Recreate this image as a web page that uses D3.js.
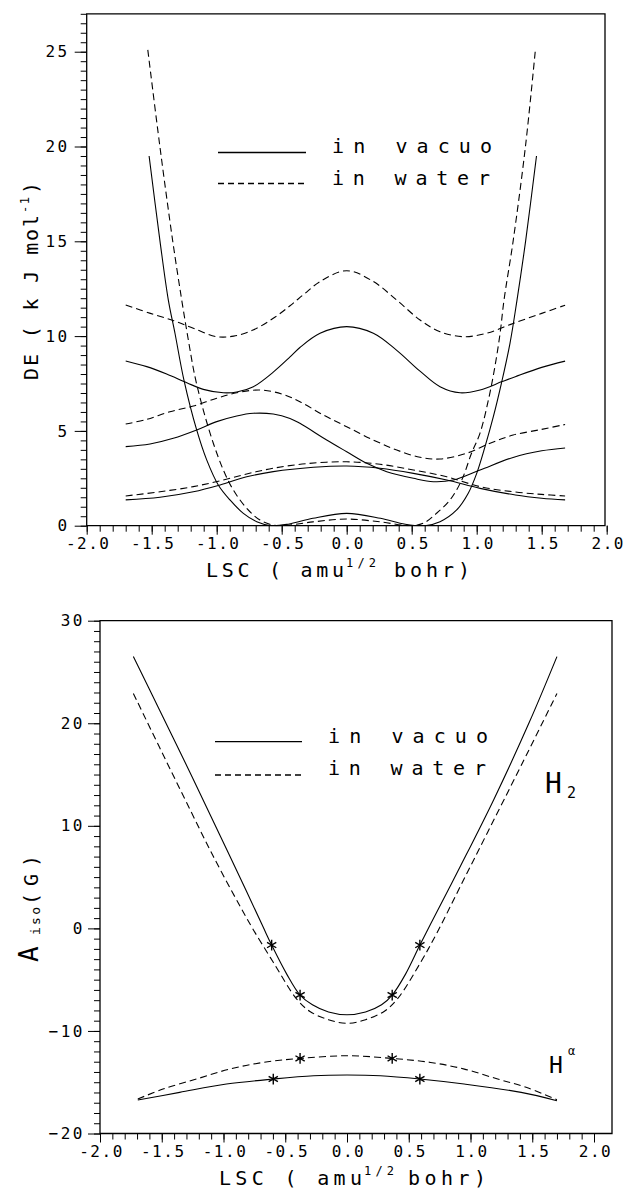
<!DOCTYPE html>
<meta charset="utf-8">
<style>
  body { margin: 0; background: #fff; }
  text { font-family: "DejaVu Sans Mono", monospace; fill: #000; }
  .tick line { stroke: #000; stroke-width: 1; }
  .curve { fill: none; stroke: #000; stroke-width: 1.1; }
  .dashed { stroke-dasharray: 7 4; }
</style>
<script src="https://d3js.org/d3.v7.min.js"></script>
<svg id="chart" width="624" height="1190"></svg>
<script>

// ---------- top panel: DE (kJ/mol) vs LSC ----------
// double well
const wellVacuo = [[-1.52,19.5],[-1.436,15.0],[-1.372,11.9],[-1.321,10.15],[-1.252,7.68],[-1.154,5.05],[-1.077,3.47],[-0.988,2.15],[-0.898,1.36],[-0.795,0.65],[-0.692,0.21],[-0.58,0.0],[-0.45,0.08],[-0.26,0.39],[0,0.65],[0.26,0.39],[0.45,0.08],[0.60,0.0],[0.718,0.21],[0.846,0.83],[0.935,1.71],[1.0,2.76],[1.064,4.17],[1.128,5.75],[1.19,7.51],[1.256,9.62],[1.31,11.9],[1.376,15.0],[1.46,19.5]];
const wellWater = [[-1.53,25.1],[-1.437,20.0],[-1.338,15.0],[-1.269,11.9],[-1.218,9.79],[-1.167,7.86],[-1.103,6.10],[-1.026,4.35],[-0.949,2.94],[-0.872,1.88],[-0.769,0.92],[-0.667,0.30],[-0.56,0.02],[-0.49,0.0],[-0.26,0.2],[0,0.35],[0.26,0.2],[0.49,0.0],[0.59,0.13],[0.69,0.65],[0.795,1.36],[0.885,2.41],[0.96,3.82],[1.025,4.87],[1.09,6.63],[1.14,8.39],[1.18,10.15],[1.21,11.9],[1.28,15.0],[1.375,20.0],[1.45,25.0]];
// upper states
const upperWater = [[-1.70,11.64],[-1.51,11.2],[-1.33,10.81],[-1.18,10.41],[-1.0,9.97],[-0.87,10.0],[-0.72,10.32],[-0.565,10.94],[-0.436,11.6],[-0.33,12.2],[-0.2,12.9],[0,13.45],[0.2,12.9],[0.385,11.9],[0.564,10.85],[0.718,10.23],[0.897,9.97],[1.077,10.15],[1.28,10.67],[1.5,11.2],[1.68,11.63]];
const upperVacuo = [[-1.70,8.69],[-1.538,8.39],[-1.385,8.0],[-1.23,7.54],[-1.103,7.19],[-0.949,7.01],[-0.846,7.05],[-0.718,7.33],[-0.565,8.1],[-0.436,8.9],[-0.36,9.4],[-0.205,10.15],[0,10.5],[0.205,10.15],[0.385,9.25],[0.564,8.15],[0.718,7.33],[0.872,7.01],[1.026,7.16],[1.195,7.6],[1.297,7.86],[1.5,8.35],[1.68,8.68]];
const middleWater = [[-1.70,5.36],[-1.538,5.61],[-1.36,6.01],[-1.18,6.31],[-1.0,6.72],[-0.846,7.01],[-0.667,7.16],[-0.5,6.95],[-0.36,6.54],[-0.18,5.84],[0,5.22],[0.205,4.52],[0.385,3.99],[0.564,3.61],[0.718,3.52],[0.923,3.82],[1.103,4.35],[1.28,4.78],[1.5,5.08],[1.68,5.34]];
const middleVacuo = [[-1.70,4.17],[-1.513,4.31],[-1.334,4.61],[-1.154,5.05],[-1.0,5.49],[-0.846,5.79],[-0.718,5.93],[-0.565,5.89],[-0.436,5.66],[-0.36,5.40],[-0.154,4.52],[0,3.9],[0.154,3.29],[0.308,2.85],[0.513,2.5],[0.667,2.32],[0.82,2.41],[1.026,2.94],[1.28,3.6],[1.5,3.95],[1.68,4.1]];
const lowerWater = [[-1.70,1.57],[-1.436,1.79],[-1.18,2.06],[-0.974,2.37],[-0.769,2.73],[-0.565,3.03],[-0.3,3.28],[0,3.37],[0.256,3.24],[0.513,2.94],[0.77,2.58],[1.026,2.06],[1.28,1.79],[1.5,1.65],[1.68,1.57]];
const lowerVacuo = [[-1.70,1.36],[-1.436,1.5],[-1.18,1.79],[-0.974,2.15],[-0.769,2.58],[-0.565,2.85],[-0.256,3.08],[0,3.15],[0.256,3.03],[0.513,2.76],[0.77,2.41],[1.026,1.97],[1.297,1.62],[1.5,1.45],[1.68,1.36]];

// ---------- bottom panel: A_iso (G) vs LSC ----------
const h2Vacuo = [[-1.73,26.5],[-1.518,21.3],[-1.247,14.6],[-1.03,9.1],[-0.813,3.6],[-0.678,0.1],[-0.61,-1.63],[-0.488,-4.46],[-0.38,-6.5],[-0.28,-7.45],[-0.15,-8.15],[0,-8.42],[0.15,-8.15],[0.28,-7.45],[0.366,-6.5],[0.474,-4.46],[0.59,-1.63],[0.677,0.42],[0.92,6.1],[1.19,12.6],[1.476,20.09],[1.70,26.5]];
const h2Water = [[-1.73,22.91],[-1.518,17.65],[-1.30,12.29],[-1.085,7.08],[-0.868,2.2],[-0.76,-0.1],[-0.597,-3.3],[-0.407,-6.9],[-0.3,-8.1],[-0.15,-8.9],[0,-9.26],[0.15,-8.9],[0.3,-8.1],[0.407,-6.9],[0.597,-3.3],[0.73,-0.4],[0.92,4.15],[1.138,9.36],[1.409,15.85],[1.70,22.9]];
const haVacuo = [[-1.694,-16.74],[-1.355,-15.99],[-0.976,-15.18],[-0.597,-14.69],[-0.27,-14.37],[0,-14.3],[0.27,-14.37],[0.59,-14.69],[0.948,-15.18],[1.41,-15.99],[1.70,-16.8]];
const haWater = [[-1.694,-16.64],[-1.49,-15.67],[-1.22,-14.69],[-0.949,-13.72],[-0.678,-13.07],[-0.38,-12.68],[0,-12.42],[0.366,-12.68],[0.677,-13.07],[0.95,-13.72],[1.22,-14.69],[1.45,-15.5],[1.70,-16.7]];
// asterisk points
const starX = [-0.61, -0.38, 0.366, 0.59, -0.38, 0.366, -0.597, 0.59];
const starY = [-1.63, -6.5, -6.5, -1.63, -12.68, -12.68, -14.69, -14.69];

// ticks
const xMajor = [-2, -1.5, -1, -0.5, 0, 0.5, 1, 1.5, 2];
const topYMajor = [0, 5, 10, 15, 20, 25];
const botYMajor = [-20, -10, 0, 10, 20, 30];

const svg = d3.select("#chart");
const fmtX = d => (Math.abs(d) < 1e-9 ? 0 : d).toFixed(1);

function drawAxes(g, x, y, o) {
  const [yb, yt] = y.range();
  const xl = x.range()[0];

  // minor ticks
  g.append("g").attr("transform", `translate(0,${yb})`)
    .call(d3.axisBottom(x).tickValues(o.xMinor).tickSize(6).tickSizeOuter(0).tickFormat(""))
    .call(a => a.select(".domain").remove());
  g.append("g").attr("transform", `translate(${xl},0)`)
    .call(d3.axisLeft(y).tickValues(o.yMinor).tickSize(6).tickSizeOuter(0).tickFormat(""))
    .call(a => a.select(".domain").remove());

  // major ticks + labels
  g.append("g").attr("transform", `translate(0,${yb})`)
    .call(d3.axisBottom(x).tickValues(xMajor).tickSize(9).tickSizeOuter(0).tickFormat(fmtX).tickPadding(3))
    .call(a => a.select(".domain").remove())
    .call(a => a.selectAll("text").attr("font-size", 16).attr("letter-spacing", 1.5)
      .attr("font-family", "DejaVu Sans Mono").attr("dx", 1));
  g.append("g").attr("transform", `translate(${xl},0)`)
    .call(d3.axisLeft(y).tickValues(o.yMajor).tickSize(12).tickSizeOuter(0).tickFormat(d3.format("d")).tickPadding(o.yPad))
    .call(a => a.select(".domain").remove())
    .call(a => a.selectAll("text").attr("font-size", 16).attr("letter-spacing", 2.5)
      .attr("font-family", "DejaVu Sans Mono"));

  // frame
  g.append("path")
    .attr("d", `M${xl},${yt}H${o.right}V${yb}H${xl}Z`)
    .attr("fill", "none").attr("stroke", "#000").attr("stroke-width", 1.3);
}

function drawCurves(g, x, y, id, solid, dashed) {
  const [yb, yt] = y.range();
  const [xl, xr] = x.range();
  g.append("clipPath").attr("id", id).append("rect")
    .attr("x", xl).attr("y", yt).attr("width", xr - xl).attr("height", yb - yt + 0.6);
  const line = d3.line().x(d => x(d[0])).y(d => y(d[1])).curve(d3.curveCatmullRom.alpha(0.5));
  const c = g.append("g").attr("clip-path", `url(#${id})`);
  c.selectAll(".s").data(solid).join("path").attr("class", "curve").attr("d", line);
  c.selectAll(".d").data(dashed).join("path").attr("class", "curve dashed").attr("d", line);
}

function legend(g, lx, ly1, ly2, tx, b1, b2) {
  g.append("line").attr("x1", lx[0]).attr("x2", lx[1]).attr("y1", ly1).attr("y2", ly1)
    .attr("stroke", "#000").attr("stroke-width", 1.3);
  g.append("line").attr("x1", lx[0]).attr("x2", lx[1]).attr("y1", ly2).attr("y2", ly2)
    .attr("stroke", "#000").attr("stroke-width", 1.3).attr("stroke-dasharray", "6 4");
  g.append("text").attr("x", tx).attr("y", b1).attr("font-size", 20)
    .attr("textLength", 160).attr("lengthAdjust", "spacing").text("in vacuo");
  g.append("text").attr("x", tx).attr("y", b2).attr("font-size", 20)
    .attr("textLength", 158).attr("lengthAdjust", "spacing").text("in water");
}

function xTitle(g, x0, base, w1, xs, xb, w3) {
  g.append("text").attr("x", x0).attr("y", base).attr("font-size", 20)
    .attr("textLength", w1).attr("lengthAdjust", "spacing").text("LSC ( amu");
  g.append("text").attr("x", xs).attr("y", base - 10).attr("font-size", 12)
    .attr("textLength", 30).attr("lengthAdjust", "spacing").text("1/2");
  g.append("text").attr("x", xb).attr("y", base).attr("font-size", 20)
    .attr("textLength", w3).attr("lengthAdjust", "spacing").text("bohr)");
}

// ===== top panel =====
const xTop = d3.scaleLinear().domain([-2, 2]).range([86.7, 606.7]);
const yTop = d3.scaleLinear().domain([0, 27]).range([525.7, 13.8]);
const gTop = svg.append("g");

drawAxes(gTop, xTop, yTop, {
  xMinor: d3.range(-20, 21).map(i => i / 10),
  yMinor: d3.range(0, 55).map(i => i / 2),
  yMajor: topYMajor, yPad: 5, right: 605
});
drawCurves(gTop, xTop, yTop, "clipTop",
  [wellVacuo, upperVacuo, middleVacuo, lowerVacuo],
  [wellWater, upperWater, middleWater, lowerWater]);
legend(gTop, [218, 306], 152.5, 183.5, 332, 153, 185);
xTitle(gTop, 206, 577, 138, 346, 394, 76);

// y title: DE (kJ mol-1)
const yt1 = gTop.append("g").attr("transform", "translate(38,380) rotate(-90)");
yt1.append("text").attr("x", 0).attr("y", 0).attr("font-size", 20)
  .attr("textLength", 165).attr("lengthAdjust", "spacing").text("DE ( k J mol");
yt1.append("text").attr("x", 167).attr("y", -9).attr("font-size", 12)
  .attr("textLength", 16).attr("lengthAdjust", "spacing").text("-1");
yt1.append("text").attr("x", 186).attr("y", 0).attr("font-size", 20).text(")");

// ===== bottom panel =====
const xBot = d3.scaleLinear().domain([-2, 2]).range([100, 594]);
const yBot = d3.scaleLinear().domain([-20, 30]).range([1133.5, 620.7]);
const gBot = svg.append("g");

drawAxes(gBot, xBot, yBot, {
  xMinor: d3.range(-20, 21).map(i => i / 10),
  yMinor: d3.range(-20, 31),
  yMajor: botYMajor, yPad: 3, right: 612
});
drawCurves(gBot, xBot, yBot, "clipBot", [h2Vacuo, haVacuo], [h2Water, haWater]);

gBot.selectAll(".star").data(starX).join("path")
  .attr("transform", (d, i) => `translate(${xBot(d)},${yBot(starY[i])})`)
  .attr("d", d3.symbol(d3.symbolAsterisk, 80))
  .attr("fill", "none").attr("stroke", "#000").attr("stroke-width", 1.4);

legend(gBot, [215, 302], 741.7, 775, 328, 743, 775);
xTitle(gBot, 219, 1185, 143, 364, 408, 78);

// y title: A_iso (G)
const yt2 = gBot.append("g").attr("transform", "translate(38,962) rotate(-90)");
yt2.append("text").attr("x", 0).attr("y", 0).attr("font-size", 26).text("A");
yt2.append("text").attr("x", 27).attr("y", 2).attr("font-size", 13)
  .attr("textLength", 28).attr("lengthAdjust", "spacing").text("iso");
yt2.append("text").attr("x", 57).attr("y", 0).attr("font-size", 20)
  .attr("textLength", 50).attr("lengthAdjust", "spacing").text("(G)");

// species labels
const thin = "Roboto, 'DejaVu Sans', sans-serif";
gBot.append("text").attr("x", 545).attr("y", 793).attr("font-family", thin)
  .attr("font-weight", 100).attr("font-size", 28).text("H");
gBot.append("text").attr("x", 567).attr("y", 798).attr("font-family", thin)
  .attr("font-weight", 100).attr("font-size", 15).text("2");
gBot.append("text").attr("x", 549).attr("y", 1073).attr("font-family", thin)
  .attr("font-weight", 100).attr("font-size", 23).text("H");
gBot.append("text").attr("x", 568).attr("y", 1055).attr("font-family", thin)
  .attr("font-size", 12).text("α");

</script>
